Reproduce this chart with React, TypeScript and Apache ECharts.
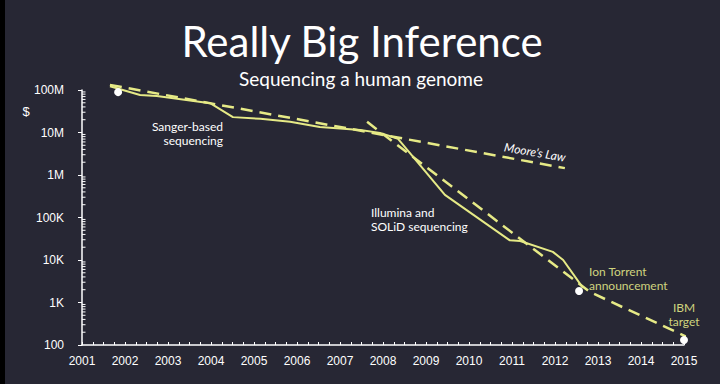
import React, { useEffect, useRef } from "react";
import * as echarts from "echarts";

// Measured cost of sequencing a human genome (year, US$)
const sequencingCost: [number, number][] = [
  [2001.65, 1.23e8],
  [2002.35, 7.6e7],
  [2002.74, 7.2e7],
  [2003.98, 4.9e7],
  [2004.51, 2.3e7],
  [2005.15, 2.1e7],
  [2005.84, 1.8e7],
  [2006.53, 1.35e7],
  [2007.47, 1.15e7],
  [2007.93, 9.8e6],
  [2008.35, 7.1e6],
  [2009.44, 3.4e5],
  [2010.95, 2.9e4],
  [2011.19, 2.8e4],
  [2011.95, 1.55e4],
  [2012.19, 1.0e4],
  [2012.65, 2.2e3],
];

// Trend lines
const mooreLaw: [number, number][] = [
  [2001.65, 1.32e8],
  [2012.23, 1.45e6],
];
const ngsTrend: [number, number][] = [
  [2007.63, 1.78e7],
  [2012.81, 1770],
  [2015.07, 154],
];

// Milestone dots
const milestones: [number, number][] = [
  [2001.84, 8.9e7],
  [2012.56, 1860],
  [2015.0, 131],
];

const yTickLabels: Record<string, string> = {
  "100": "100",
  "1000": "1K",
  "10000": "10K",
  "100000": "100K",
  "1000000": "1M",
  "10000000": "10M",
  "100000000": "100M",
};
const decades = [100, 1e3, 1e4, 1e5, 1e6, 1e7];
const minorMultipliers = [2, 3, 4, 5, 6, 7, 8, 9];

const YEAR_MIN = 2001;
const YEAR_MAX = 2015;

const LINE = "#e6ea86";
const NOTE = "#cfd47e";
const BG = "#272734";

export default function App() {
  const ref = useRef<HTMLDivElement>(null);
  useEffect(() => {
    if (!ref.current) return;
    const chart = echarts.init(ref.current, undefined, { renderer: "svg" });
    const minorTicks: [number, number][] = [];
    decades.forEach((d) => minorMultipliers.forEach((m) => minorTicks.push([YEAR_MIN, d * m])));

    const txt = (
      text: string,
      x: number,
      y: number,
      opts: any = {}
    ) => ({
      type: "text",
      x,
      y,
      silent: true,
      ...(opts.rotation !== undefined ? { rotation: opts.rotation } : {}),
      style: {
        text,
        fill: opts.fill || "#ffffff",
        font: opts.font || "12px Lato",
        textAlign: opts.align || "left",
        textVerticalAlign: "middle",
        lineHeight: opts.lineHeight || 14,
      },
      z: 100,
    });

    chart.setOption({
      animation: false,
      backgroundColor: BG,
      grid: { left: 82, right: 36, top: 90, bottom: 39, containLabel: false },
      xAxis: {
        type: "value",
        min: YEAR_MIN,
        max: YEAR_MAX,
        interval: 1,
        axisLine: { show: true, lineStyle: { color: "#ffffff", width: 1.5 } },
        axisTick: { show: true, inside: true, length: 3, lineStyle: { color: "#ffffff", width: 1 } },
        minorTick: { show: true, splitNumber: 4, length: 3, lineStyle: { color: "#ffffff", width: 1 } },
        splitLine: { show: false },
        axisLabel: {
          color: "#ffffff",
          fontFamily: "Liberation Sans",
          fontSize: 12,
          margin: 10,
          formatter: (v: number) => String(Math.round(v)),
        },
      },
      yAxis: {
        type: "log",
        logBase: 10,
        min: 100,
        max: 1e8,
        axisLine: { show: true, lineStyle: { color: "#ffffff", width: 1.5 } },
        axisTick: { show: true, inside: false, length: 4, lineStyle: { color: "#ffffff", width: 1 } },
        splitLine: { show: false },
        axisLabel: {
          color: "#ffffff",
          fontFamily: "Liberation Sans",
          fontSize: 12,
          margin: 18,
          formatter: (v: number) => yTickLabels[String(Math.round(v))] ?? "",
        },
      },
      series: [
        {
          type: "custom",
          name: "minorTicks",
          silent: true,
          clip: false,
          z: 5,
          data: minorTicks,
          renderItem: (_p: any, api: any) => {
            const pt = api.coord([api.value(0), api.value(1)]);
            return {
              type: "line",
              shape: { x1: pt[0], y1: pt[1], x2: pt[0] + 3.5, y2: pt[1] },
              style: { stroke: "#ffffff", lineWidth: 1 },
            };
          },
        },
        {
          type: "line",
          name: "Moore's Law",
          data: mooreLaw,
          symbol: "none",
          clip: false,
          lineStyle: { color: LINE, width: 2.5, type: [12, 7] },
          z: 3,
        },
        {
          type: "line",
          name: "NGS trend",
          data: ngsTrend,
          symbol: "none",
          clip: false,
          lineStyle: { color: LINE, width: 2.5, type: [12, 7] },
          z: 3,
        },
        {
          type: "line",
          name: "Cost",
          data: sequencingCost,
          symbol: "none",
          clip: false,
          lineStyle: { color: LINE, width: 2 },
          z: 4,
        },
        {
          type: "scatter",
          name: "Milestones",
          data: milestones,
          symbolSize: 8,
          clip: false,
          itemStyle: { color: "#ffffff", opacity: 1 },
          z: 6,
        },
      ],
      graphic: [
        { type: "rect", left: 0, top: 0, shape: { width: 5, height: 384 }, style: { fill: "#000000" }, z: 200 },
        txt("Really Big Inference", 362, 41, { font: "42px Lato", align: "center" }),
        txt("Sequencing a human genome", 361, 78, { font: "19px Lato", align: "center" }),
        txt("$", 26, 111, { font: "13px Liberation Sans", align: "center" }),
        txt("Sanger-based\nsequencing", 223, 133, { align: "right" }),
        txt("Moore's Law", 535, 152, { font: "italic 12px Lato", align: "center", rotation: -0.17 }),
        txt("Illumina and\nSOLiD sequencing", 371, 219),
        txt("Ion Torrent\nannouncement", 589, 278, { fill: NOTE }),
        txt("IBM\ntarget", 684, 314, { fill: NOTE, align: "center" }),
      ],
    });
    return () => chart.dispose();
  }, []);
  return (
    <div
      ref={ref}
      style={{ position: "fixed", left: 0, top: 0, width: 720, height: 384 }}
    />
  );
}
